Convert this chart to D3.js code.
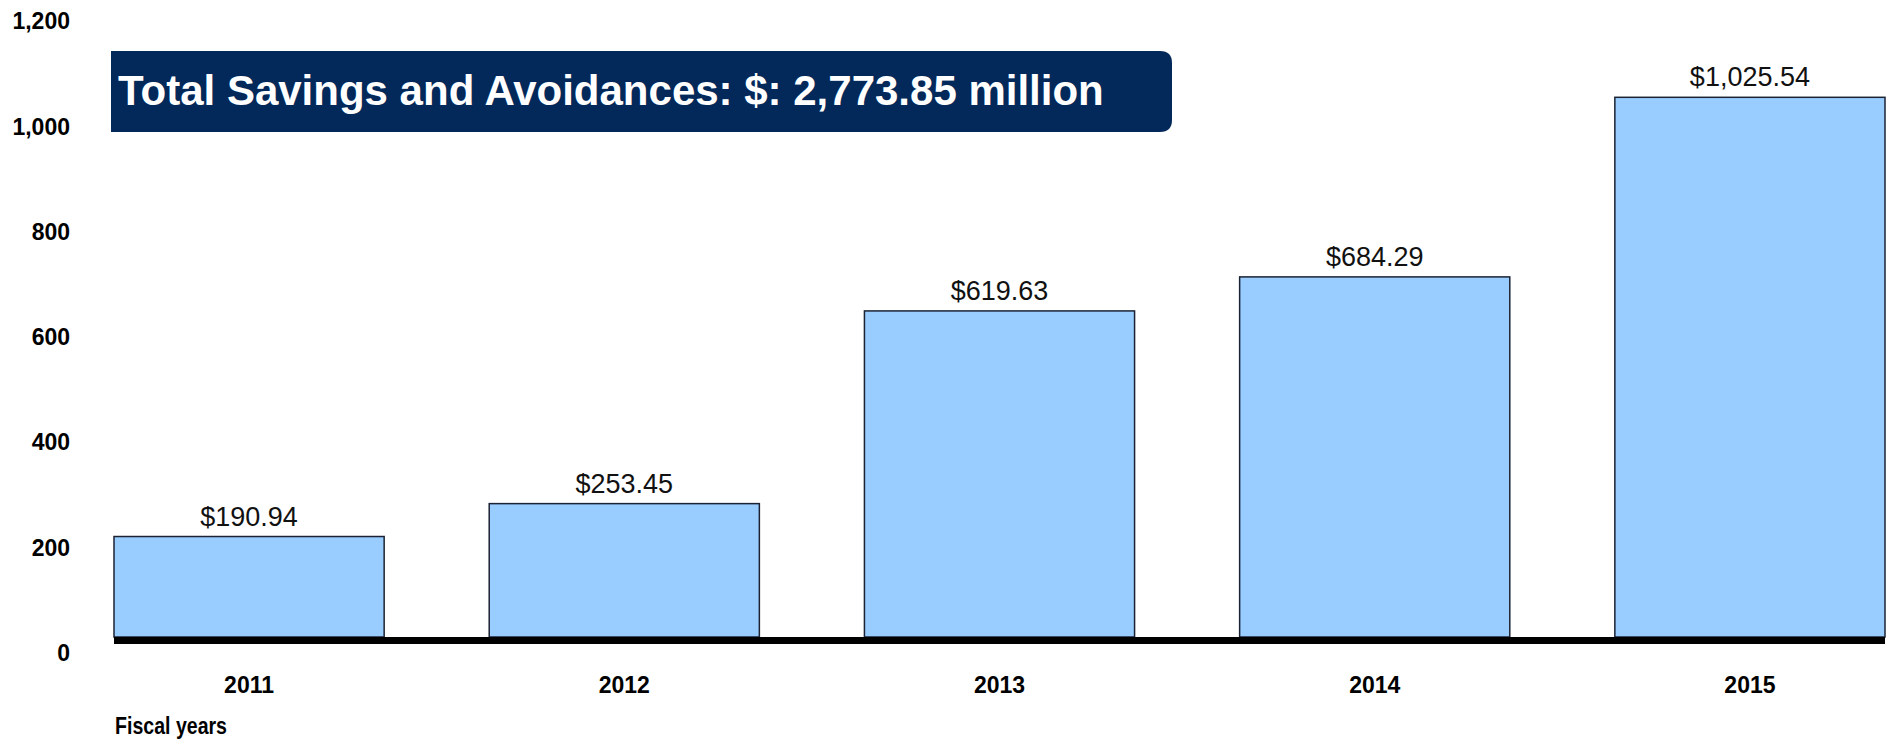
<!DOCTYPE html>
<html>
<head>
<meta charset="utf-8">
<script src="https://cdn.jsdelivr.net/npm/d3@7"></script>
<style>
  html, body { margin: 0; padding: 0; background: #ffffff; }
  svg { display: block; }
</style>
</head>
<body>
<svg id="chart" width="1893" height="742"></svg>
<script>
const categories = ["2011", "2012", "2013", "2014", "2015"];
const values = [190.94, 253.45, 619.63, 684.29, 1025.54];
const valueLabels = ["$190.94", "$253.45", "$619.63", "$684.29", "$1,025.54"];
const yTicks = [0, 200, 400, 600, 800, 1000, 1200];
const titleText = "Total Savings and Avoidances: $: 2,773.85 million";
const xAxisTitle = "Fiscal years";

const svg = d3.select("#chart");
const font = "Arial, 'Liberation Sans', sans-serif";

const x = d3.scaleBand().domain(categories).range([114, 1885]).paddingInner(0.28).paddingOuter(0);
const y = d3.scaleLinear().domain([0, 1200]).range([637, 5.5]);

// y axis labels
const yAxis = svg.append("g")
  .attr("transform", "translate(70,0)")
  .call(d3.axisLeft(y).tickValues(yTicks).tickSize(0).tickPadding(0).tickFormat(d3.format(",")));
yAxis.select(".domain").remove();
yAxis.selectAll("text")
  .attr("transform", "translate(0,15)")
  .attr("dy", "0.36em")
  .style("font-family", font)
  .style("font-weight", "bold")
  .style("font-size", "23px")
  .attr("fill", "#000");

// bars
svg.append("g").selectAll("rect")
  .data(values)
  .join("rect")
  .attr("x", (d, i) => x(categories[i]))
  .attr("y", d => y(d))
  .attr("width", x.bandwidth())
  .attr("height", d => y(0) - y(d))
  .attr("fill", "#99ccff")
  .attr("stroke", "#1b2233")
  .attr("stroke-width", 1.5);

// baseline
svg.append("line")
  .attr("x1", x.range()[0]).attr("x2", x.range()[1])
  .attr("y1", y(0) + 3.5).attr("y2", y(0) + 3.5)
  .attr("stroke", "#000").attr("stroke-width", 7);

// value labels
svg.append("g").selectAll("text")
  .data(values)
  .join("text")
  .attr("x", (d, i) => x(categories[i]) + x.bandwidth() / 2)
  .attr("y", d => y(d) - 11)
  .attr("text-anchor", "middle")
  .style("font-family", font)
  .style("font-size", "27px")
  .attr("fill", "#111")
  .text((d, i) => valueLabels[i]);

// x axis
const xAxis = svg.append("g")
  .attr("transform", `translate(0,${y(0)})`)
  .call(d3.axisBottom(x).tickSize(0));
xAxis.select(".domain").remove();
xAxis.selectAll("text")
  .attr("y", 56)
  .attr("dy", "0")
  .style("font-family", font)
  .style("font-weight", "bold")
  .style("font-size", "23px")
  .attr("fill", "#000");

svg.append("text")
  .attr("x", 115).attr("y", 734)
  .attr("textLength", 112)
  .attr("lengthAdjust", "spacingAndGlyphs")
  .style("font-family", font)
  .style("font-weight", "bold")
  .style("font-size", "24px")
  .attr("fill", "#000")
  .text(xAxisTitle);

// title box
const bx0 = 111, bx1 = 1172, by0 = 51, by1 = 132, r = 12;
svg.append("path")
  .attr("d", `M${bx0},${by0} H${bx1 - r} Q${bx1},${by0} ${bx1},${by0 + r} V${by1 - r} Q${bx1},${by1} ${bx1 - r},${by1} H${bx0} Z`)
  .attr("fill", "#03295b");
svg.append("text")
  .attr("x", 118).attr("y", 105)
  .style("font-family", font)
  .style("font-weight", "bold")
  .style("font-size", "42px")
  .attr("fill", "#ffffff")
  .text(titleText);
</script>
</body>
</html>
